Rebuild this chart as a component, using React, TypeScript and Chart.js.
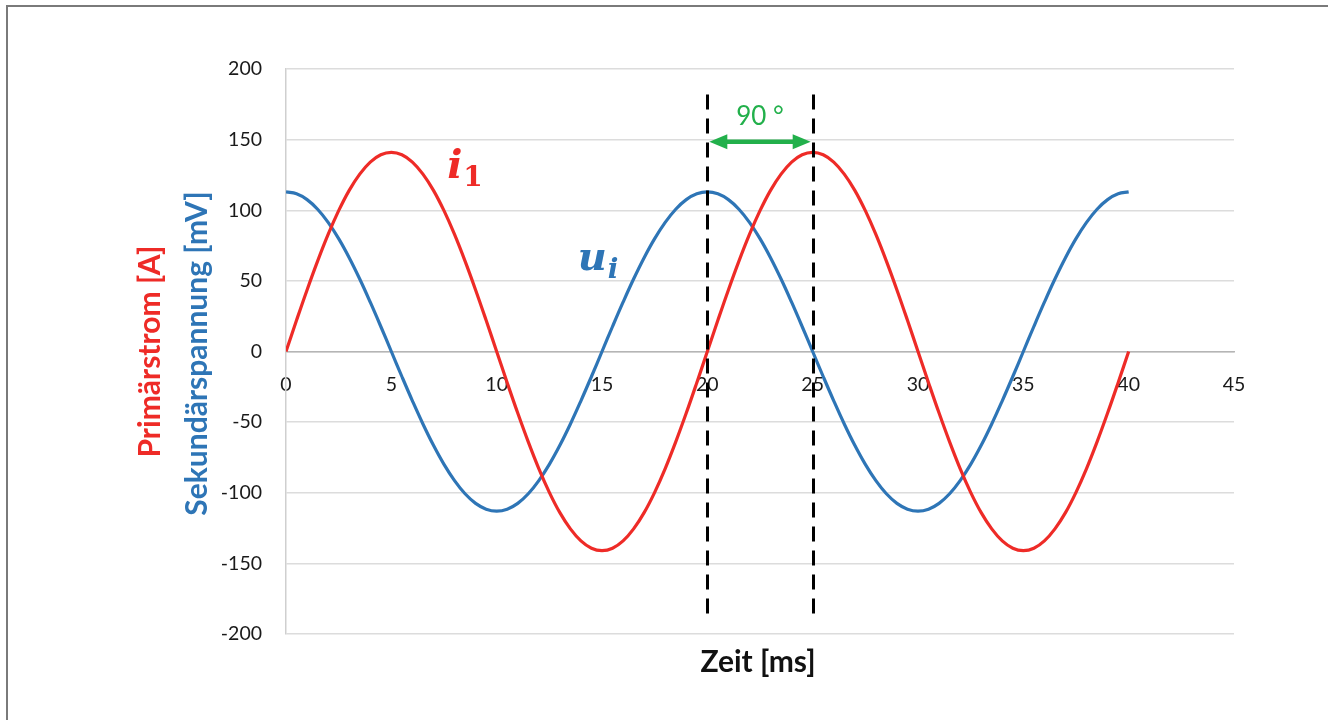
import React, { useEffect, useRef } from "react";
import { Chart, registerables } from "chart.js";

Chart.register(...registerables);

// ---- data ----
const timeMs = [
  0, 0.5, 1, 1.5, 2, 2.5, 3, 3.5, 4, 4.5, 5, 5.5, 6, 6.5, 7, 7.5, 8, 8.5, 9, 9.5,
  10, 10.5, 11, 11.5, 12, 12.5, 13, 13.5, 14, 14.5, 15, 15.5, 16, 16.5, 17, 17.5, 18, 18.5, 19, 19.5,
  20, 20.5, 21, 21.5, 22, 22.5, 23, 23.5, 24, 24.5, 25, 25.5, 26, 26.5, 27, 27.5, 28, 28.5, 29, 29.5,
  30, 30.5, 31, 31.5, 32, 32.5, 33, 33.5, 34, 34.5, 35, 35.5, 36, 36.5, 37, 37.5, 38, 38.5, 39, 39.5,
  40,
];
const primaryCurrentA = [
  0, 22.1, 43.6, 64.0, 82.9, 99.7, 114.1, 125.6, 134.1, 139.3, 141, 139.3, 134.1, 125.6, 114.1, 99.7, 82.9, 64.0, 43.6, 22.1,
  0, -22.1, -43.6, -64.0, -82.9, -99.7, -114.1, -125.6, -134.1, -139.3, -141, -139.3, -134.1, -125.6, -114.1, -99.7, -82.9, -64.0, -43.6, -22.1,
  0, 22.1, 43.6, 64.0, 82.9, 99.7, 114.1, 125.6, 134.1, 139.3, 141, 139.3, 134.1, 125.6, 114.1, 99.7, 82.9, 64.0, 43.6, 22.1,
  0, -22.1, -43.6, -64.0, -82.9, -99.7, -114.1, -125.6, -134.1, -139.3, -141, -139.3, -134.1, -125.6, -114.1, -99.7, -82.9, -64.0, -43.6, -22.1,
  0,
];
const secondaryVoltageMv = [
  113, 111.6, 107.5, 100.7, 91.4, 79.9, 66.4, 51.3, 34.9, 17.7, 0, -17.7, -34.9, -51.3, -66.4, -79.9, -91.4, -100.7, -107.5, -111.6,
  -113, -111.6, -107.5, -100.7, -91.4, -79.9, -66.4, -51.3, -34.9, -17.7, 0, 17.7, 34.9, 51.3, 66.4, 79.9, 91.4, 100.7, 107.5, 111.6,
  113, 111.6, 107.5, 100.7, 91.4, 79.9, 66.4, 51.3, 34.9, 17.7, 0, -17.7, -34.9, -51.3, -66.4, -79.9, -91.4, -100.7, -107.5, -111.6,
  -113, -111.6, -107.5, -100.7, -91.4, -79.9, -66.4, -51.3, -34.9, -17.7, 0, 17.7, 34.9, 51.3, 66.4, 79.9, 91.4, 100.7, 107.5, 111.6,
  113,
];
const xTickValues = [0, 5, 10, 15, 20, 25, 30, 35, 40, 45];
const yTickValues = [-200, -150, -100, -50, 0, 50, 100, 150, 200];
const markerTimes = [20, 25];
const markerRange = [-186, 182];
const phaseArrowValue = 150;
const phaseLabel = "90 °";
const phaseLabelValue = 166;
const currentLabelPos = [7.65, 123];
const voltageLabelPos = [13.85, 58];
const xTitle = "Zeit [ms]";
const yTitleCurrent = "Primärstrom [A]";
const yTitleVoltage = "Sekundärspannung [mV]";

const RED = "#ee2b27";
const BLUE = "#2e75b6";
const GREEN = "#22b04b";
const FONT = "Lato, 'Open Sans', sans-serif";

const annotations = {
  id: "annotations",
  afterDraw(chart: any) {
    const { ctx, chartArea, scales } = chart;
    const x = scales.x;
    const y = scales.y;
    ctx.save();

    // dashed marker lines
    ctx.strokeStyle = "#000";
    ctx.lineWidth = 3;
    ctx.setLineDash([15, 9]);
    markerTimes.forEach((t) => {
      const px = Math.round(x.getPixelForValue(t)) + 0.5;
      ctx.beginPath();
      ctx.moveTo(px, y.getPixelForValue(markerRange[1]));
      ctx.lineTo(px, y.getPixelForValue(markerRange[0]));
      ctx.stroke();
    });
    ctx.setLineDash([]);

    // phase arrow
    const x0 = x.getPixelForValue(markerTimes[0]) + 2;
    const x1 = x.getPixelForValue(markerTimes[1]) - 2;
    const ay = y.getPixelForValue(phaseArrowValue) + 2;
    const head = 18;
    const half = 7.5;
    ctx.strokeStyle = GREEN;
    ctx.fillStyle = GREEN;
    ctx.lineWidth = 4.5;
    ctx.beginPath();
    ctx.moveTo(x0 + head - 2, ay);
    ctx.lineTo(x1 - head + 2, ay);
    ctx.stroke();
    ctx.beginPath();
    ctx.moveTo(x0, ay);
    ctx.lineTo(x0 + head, ay - half);
    ctx.lineTo(x0 + head, ay + half);
    ctx.closePath();
    ctx.fill();
    ctx.beginPath();
    ctx.moveTo(x1, ay);
    ctx.lineTo(x1 - head, ay - half);
    ctx.lineTo(x1 - head, ay + half);
    ctx.closePath();
    ctx.fill();

    ctx.font = `26px ${FONT}`;
    ctx.textAlign = "center";
    ctx.textBaseline = "middle";
    ctx.fillText(
      phaseLabel,
      (x.getPixelForValue(markerTimes[0]) + x.getPixelForValue(markerTimes[1])) / 2,
      y.getPixelForValue(phaseLabelValue)
    );

    // curve labels (math style)
    ctx.textAlign = "left";
    ctx.textBaseline = "alphabetic";
    const drawMath = (main: string, sub: string, pos: number[], color: string) => {
      ctx.fillStyle = color;
      const px = x.getPixelForValue(pos[0]);
      const py = y.getPixelForValue(pos[1]);
      ctx.font = `italic bold 40px 'DejaVu Serif', serif`;
      ctx.fillText(main, px, py);
      const w = ctx.measureText(main).width;
      ctx.font = `${sub === "1" ? "" : "italic "}bold 28px 'DejaVu Serif', serif`;
      ctx.fillText(sub, px + w + 1, py + 8);
    };
    drawMath("i", "1", currentLabelPos, RED);
    drawMath("u", "i", voltageLabelPos, BLUE);

    // axis titles
    ctx.fillStyle = "#111";
    ctx.font = `bold 30px ${FONT}`;
    ctx.textAlign = "center";
    ctx.textBaseline = "middle";
    ctx.fillText(xTitle, (chartArea.left + chartArea.right) / 2 - 2, chartArea.bottom + 28);

    const cy = (chartArea.top + chartArea.bottom) / 2;
    ctx.save();
    ctx.translate(chartArea.left - 136, cy);
    ctx.rotate(-Math.PI / 2);
    ctx.fillStyle = RED;
    ctx.fillText(yTitleCurrent, 0, 0);
    ctx.restore();
    ctx.save();
    ctx.translate(chartArea.left - 89, cy + 2);
    ctx.rotate(-Math.PI / 2);
    ctx.fillStyle = BLUE;
    ctx.fillText(yTitleVoltage, 0, 0);
    ctx.restore();

    ctx.restore();
  },
};

export default function App() {
  const canvasRef = useRef<HTMLCanvasElement | null>(null);

  useEffect(() => {
    const canvas = canvasRef.current;
    if (!canvas) return;
    const chart = new Chart(canvas, {
      type: "line",
      data: {
        datasets: [
          {
            label: "i1",
            data: timeMs.map((t, i) => ({ x: t, y: primaryCurrentA[i] })),
            borderColor: RED,
            borderWidth: 3.2,
            pointRadius: 0,
            tension: 0.4,
            fill: false,
          },
          {
            label: "ui",
            data: timeMs.map((t, i) => ({ x: t, y: secondaryVoltageMv[i] })),
            borderColor: BLUE,
            borderWidth: 3.2,
            pointRadius: 0,
            tension: 0.4,
            fill: false,
          },
        ],
      },
      options: {
        animation: false,
        responsive: false,
        layout: { padding: { left: 0, top: 69, right: 94, bottom: 86 } },
        plugins: { legend: { display: false }, tooltip: { enabled: false } },
        scales: {
          x: {
            type: "linear",
            position: { y: 0 } as any,
            min: 0,
            max: 45,
            afterBuildTicks: (s: any) => {
              s.ticks = xTickValues.map((v) => ({ value: v }));
            },
            grid: { display: false, drawTicks: false },
            border: { display: true, color: "#b5b5b5", width: 1.5 },
            ticks: {
              padding: 22,
              color: "#1a1a1a",
              font: { family: FONT, size: 19.5 },
              maxRotation: 0,
              autoSkip: false,
            },
          },
          y: {
            type: "linear",
            min: -200,
            max: 200,
            afterBuildTicks: (s: any) => {
              s.ticks = yTickValues.map((v) => ({ value: v }));
            },
            afterFit: (s: any) => {
              s.width = 286;
            },
            grid: { color: "#dcdcdc", lineWidth: 1.5, drawTicks: false },
            border: { display: true, color: "#cfcfcf", width: 1.5 },
            ticks: {
              padding: 24,
              color: "#1a1a1a",
              font: { family: FONT, size: 19.5 },
            },
          },
        },
      },
      plugins: [annotations],
    });
    return () => chart.destroy();
  }, []);

  return (
    <div
      style={{
        position: "fixed",
        left: 0,
        top: 0,
        width: 1328,
        height: 720,
        background: "#fff",
        overflow: "hidden",
      }}
    >
      <div
        style={{
          position: "absolute",
          left: 6,
          top: 5,
          width: 1400,
          height: 800,
          borderTop: "2px solid #7a7a7a",
          borderLeft: "2px solid #7a7a7a",
        }}
      />
      <canvas
        ref={canvasRef}
        width={1328}
        height={720}
        style={{ position: "absolute", left: 0, top: 0 }}
      />
    </div>
  );
}
